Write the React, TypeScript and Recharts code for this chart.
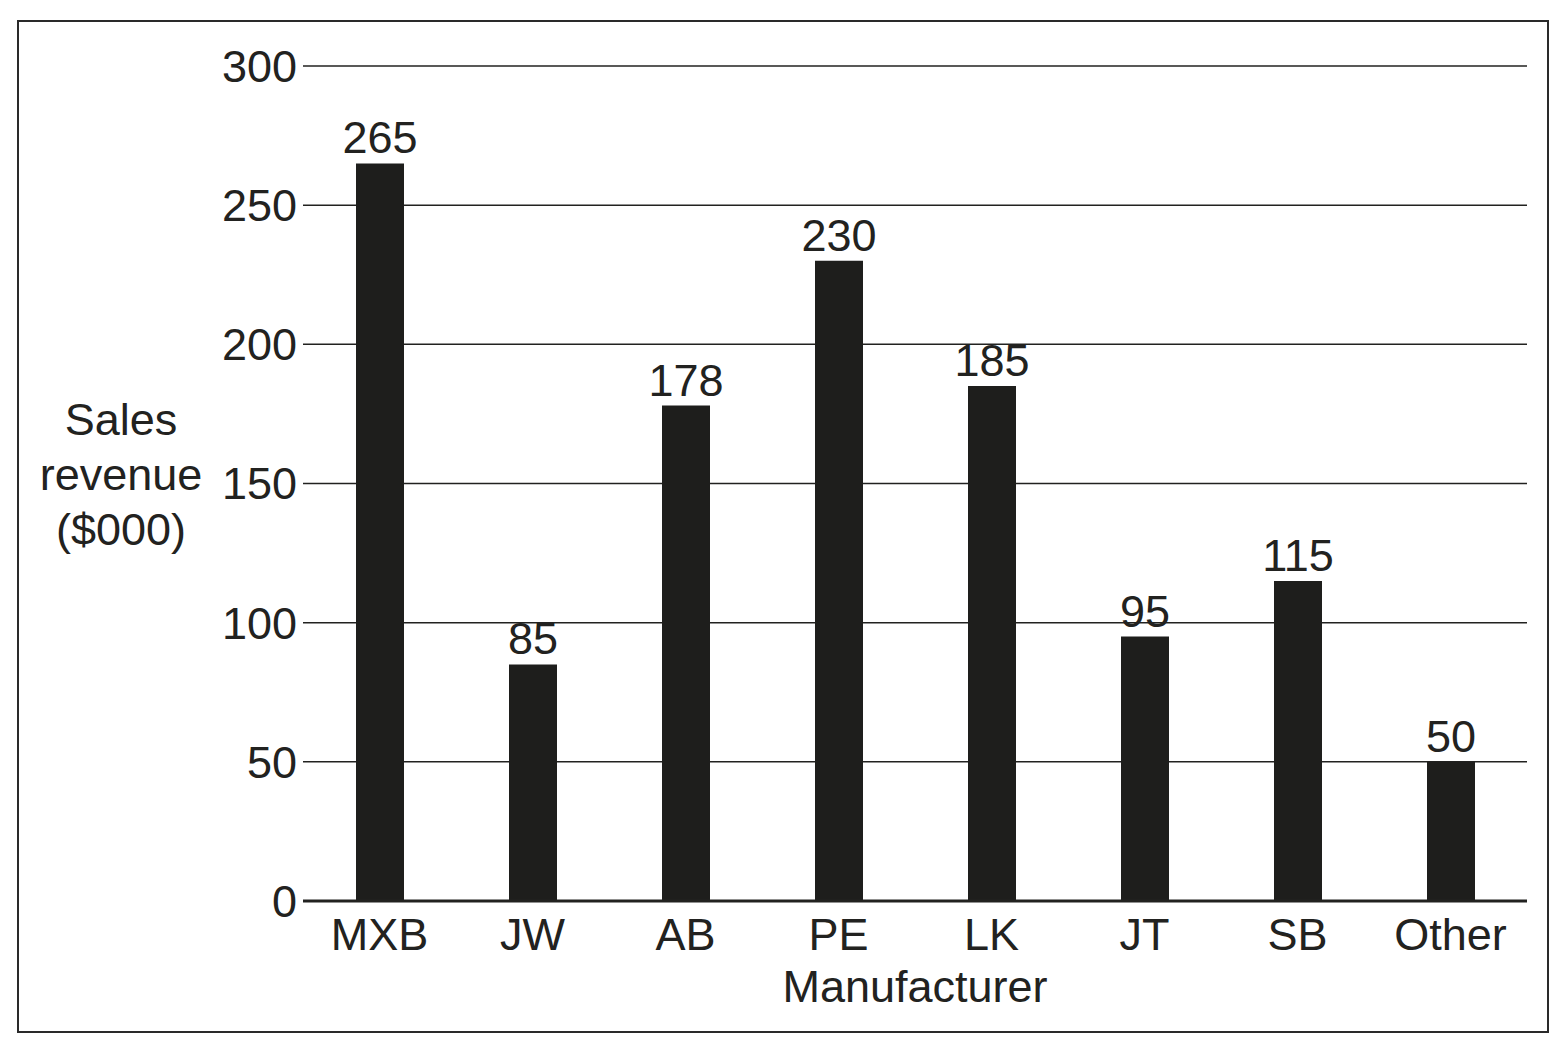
import React from "react";
import {
  Bar, BarChart, CartesianGrid, XAxis, YAxis, LabelList, Label,
} from "recharts";

const manufacturers = ["MXB", "JW", "AB", "PE", "LK", "JT", "SB", "Other"];
const revenue = [265, 85, 178, 230, 185, 95, 115, 50];
const yTicks = [0, 50, 100, 150, 200, 250, 300];
const yLabelLines = ["Sales", "revenue", "($000)"];

const data = manufacturers.map((name, i) => ({ name, revenue: revenue[i] }));

const INK = "#222220";
const FONT = "'Liberation Sans', Arial, Helvetica, sans-serif";
const FS = 45;

export default function App() {
  return (
    <div
      style={{
        position: "absolute", left: 0, top: 0, width: 1567, height: 1049,
        background: "#fff", fontFamily: FONT,
      }}
    >
      {/* frame */}
      <div
        style={{
          position: "absolute", left: 17, top: 20, width: 1532, height: 1013,
          border: "2px solid #2a2a2a", boxSizing: "border-box",
        }}
      />
      <div style={{ position: "absolute", left: 0, top: 0 }}>
        <BarChart
          width={1567}
          height={1049}
          data={data}
          margin={{ top: 66, right: 40, bottom: 0, left: 0 }}
          barSize={48}
        >
          <CartesianGrid vertical={false} stroke={INK} strokeWidth={1.5} />
          <XAxis
            dataKey="name"
            height={148}
            tickLine={false}
            tickSize={6}
            tickMargin={11}
            axisLine={{ stroke: INK, strokeWidth: 3 }}
            tick={{ fontSize: FS, fill: INK, fontFamily: FONT }}
            interval={0}
          >
            <Label
              content={(props: any) => {
                const vb = props.viewBox || {};
                return (
                  <text
                    x={vb.x + vb.width / 2}
                    y={vb.y + 101}
                    textAnchor="middle"
                    fontSize={FS}
                    fill={INK}
                    fontFamily={FONT}
                  >
                    Manufacturer
                  </text>
                );
              }}
            />
          </XAxis>
          <YAxis
            width={303}
            domain={[0, 300]}
            ticks={yTicks}
            tickLine={false}
            axisLine={false}
            tickMargin={0}
            tick={{ fontSize: FS, fill: INK, fontFamily: FONT }}
          >
            <Label
              content={() => (
                <text
                  textAnchor="middle"
                  fontSize={FS}
                  fill={INK}
                  fontFamily={FONT}
                >
                  {yLabelLines.map((line, i) => (
                    <tspan key={line} x={121} y={435 + i * 55}>
                      {line}
                    </tspan>
                  ))}
                </text>
              )}
            />
          </YAxis>
          <Bar dataKey="revenue" fill="#1e1e1c" isAnimationActive={false}>
            <LabelList
              dataKey="revenue"
              position="top"
              offset={10}
              fill={INK}
              fontSize={FS}
              fontFamily={FONT}
            />
          </Bar>
        </BarChart>
      </div>
    </div>
  );
}
